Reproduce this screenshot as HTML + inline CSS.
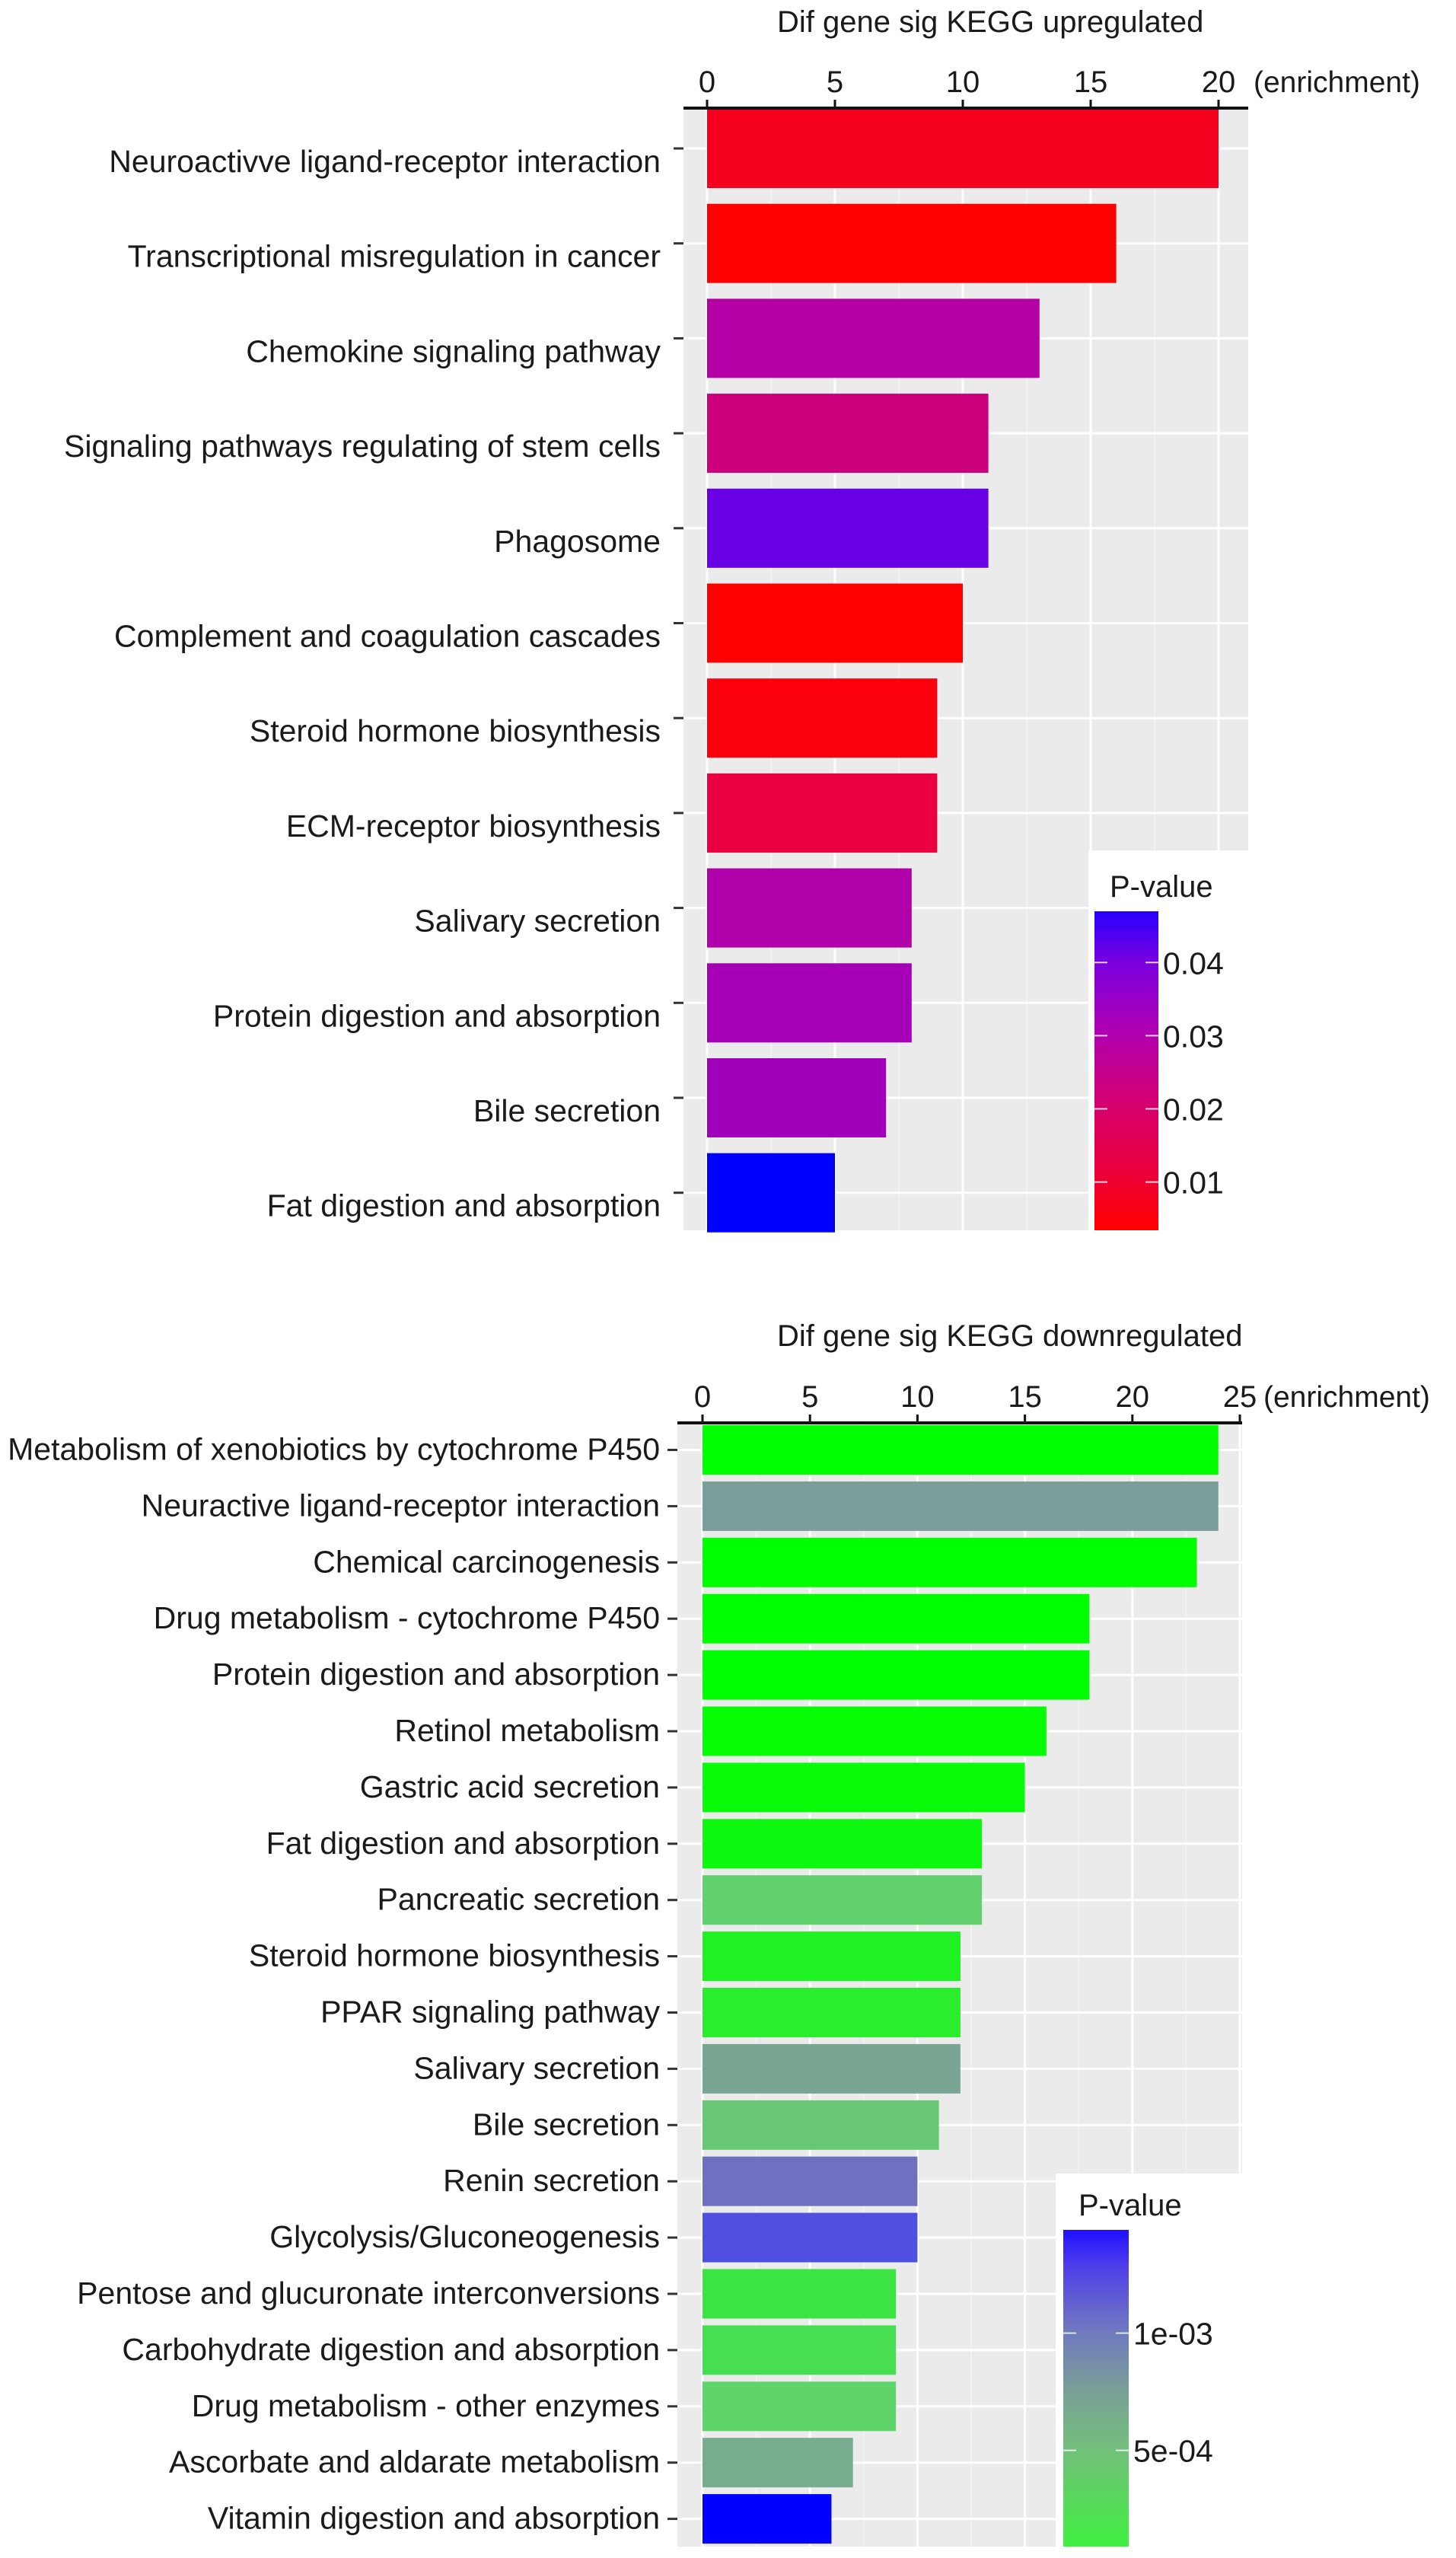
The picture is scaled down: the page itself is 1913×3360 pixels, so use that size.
<!DOCTYPE html>
<html><head><meta charset="utf-8"><style>
html,body{margin:0;padding:0;background:#fff}
svg text{font-family:"Liberation Sans",Arial,sans-serif;fill:#1a1a1a}
</style></head><body>
<svg id="root" xmlns="http://www.w3.org/2000/svg" width="1913" height="3355" viewBox="0 0 1913 3355">
<defs>
<linearGradient id="gUp" x1="0" y1="1" x2="0" y2="0">
<stop offset="0" stop-color="#ff0000"/><stop offset="0.2" stop-color="#ea0040"/><stop offset="0.4" stop-color="#d40070"/><stop offset="0.62" stop-color="#b000b0"/><stop offset="0.84" stop-color="#7a00e0"/><stop offset="1" stop-color="#2800ff"/>
</linearGradient>
<linearGradient id="gDown" x1="0" y1="1" x2="0" y2="0">
<stop offset="0" stop-color="#40f040"/><stop offset="0.3" stop-color="#72c07a"/><stop offset="0.5" stop-color="#7a9e98"/><stop offset="0.7" stop-color="#6e74c4"/><stop offset="0.88" stop-color="#5040e8"/><stop offset="1" stop-color="#2010ff"/>
</linearGradient>
</defs>
<g id="up"></g>
<g id="down"></g>
</svg>
<script>
const upCategories = ["Neuroactivve ligand-receptor interaction","Transcriptional misregulation in cancer","Chemokine signaling pathway","Signaling pathways regulating of stem cells","Phagosome","Complement and coagulation cascades","Steroid hormone biosynthesis","ECM-receptor biosynthesis","Salivary secretion","Protein digestion and absorption","Bile secretion","Fat digestion and absorption"];
const upValues = [20,16,13,11,11,10,9,9,8,8,7,5];
const upPvalues = [0.007,0.0034,0.029,0.022,0.041,0.0035,0.005,0.011,0.030,0.032,0.033,0.047];
const upTicks = [0,5,10,15,20];
const upLegendTicks = [0.01,0.02,0.03,0.04];
const upLegendLabels = ["0.01","0.02","0.03","0.04"];

const downCategories = ["Metabolism of xenobiotics by cytochrome P450","Neuractive ligand-receptor interaction","Chemical carcinogenesis","Drug metabolism - cytochrome P450","Protein digestion and absorption","Retinol metabolism","Gastric acid secretion","Fat digestion and absorption","Pancreatic secretion","Steroid hormone biosynthesis","PPAR signaling pathway","Salivary secretion","Bile secretion","Renin secretion","Glycolysis/Gluconeogenesis","Pentose and glucuronate interconversions","Carbohydrate digestion and absorption","Drug metabolism - other enzymes","Ascorbate and aldarate metabolism","Vitamin digestion and absorption"];
const downValues = [24,24,23,18,18,16,15,13,13,12,12,12,11,10,10,9,9,9,7,6];
const downPvalues = [0.00009,0.00074,0.00009,0.00009,0.00009,0.0001,0.00011,0.00012,0.00032,0.00016,0.00018,0.00065,0.00037,0.00107,0.00125,0.00022,0.00025,0.0003,0.00055,0.00144];
const downTicks = [0,5,10,15,20,25];
const downLegendTicks = [0.0005,0.001];
const downLegendLabels = ["5e-04","1e-03"];

const upStops = [[0.0034,[255,0,0]],[0.011,[234,0,64]],[0.02,[212,0,112]],[0.03,[176,0,170]],[0.04,[122,0,224]],[0.047,[0,0,255]]];
const downStops = [[0.00009,[0,255,0]],[0.0003,[95,212,106]],[0.0005,[118,176,136]],[0.00074,[122,158,154]],[0.00107,[112,112,192]],[0.00125,[80,80,224]],[0.00144,[0,0,255]]];

const NS="http://www.w3.org/2000/svg";
function mk(parent,tag,attrs,text){const e=document.createElementNS(NS,tag);for(const k in attrs)e.setAttribute(k,attrs[k]);if(text!==undefined)e.textContent=text;parent.appendChild(e);return e;}
function colorFor(p,stops){
  if(p<=stops[0][0])return "rgb("+stops[0][1].join(",")+")";
  for(let i=1;i<stops.length;i++){if(p<=stops[i][0]){const a=stops[i-1],b=stops[i];const t=(p-a[0])/(b[0]-a[0]);const c=a[1].map((v,j)=>Math.round(v+(b[1][j]-v)*t));return "rgb("+c.join(",")+")";}}
  return "rgb("+stops[stops.length-1][1].join(",")+")";
}

function drawChart(g,cfg){
  const xs=v=>cfg.x0+v*cfg.k;
  const ys=i=>cfg.row0+i*cfg.step;
  const bg=mk(g,"rect",{x:cfg.pl,y:cfg.axisY,width:cfg.pr-cfg.pl,height:cfg.pb-cfg.axisY,fill:"#ebebeb"});
  
  
  for(let v=cfg.ticks[0]+2.5; v<cfg.ticks[cfg.ticks.length-1]+2.5; v+=5){
    const x=xs(v); if(x>cfg.pr) continue;
    const l=mk(g,"line",{x1:x,x2:x,y1:cfg.axisY,y2:cfg.pb,stroke:"#f5f5f5","stroke-width":1.5});
    
    
  }
  cfg.ticks.forEach(v=>{
    const l=mk(g,"line",{x1:xs(v),x2:xs(v),y1:cfg.axisY,y2:cfg.pb,stroke:"#fff","stroke-width":3});
    
    
  });
  cfg.cats.forEach((c,i)=>{
    const l=mk(g,"line",{x1:cfg.pl,x2:cfg.pr,y1:ys(i),y2:ys(i),stroke:"#fff","stroke-width":3});
    
    
  });
  cfg.cats.forEach((c,i)=>{
    const r=mk(g,"rect",{x:xs(0),y:ys(i)-cfg.barH/2,width:xs(cfg.vals[i])-xs(0),height:cfg.barH,fill:colorFor(cfg.pv[i],cfg.stops)});
    
    
    const t=mk(g,"text",{x:cfg.labelX,y:ys(i)+cfg.labelDy,"font-size":cfg.labelFs,"text-anchor":"end"},c);
    
    
    const tk=mk(g,"line",{x1:cfg.pl-13,x2:cfg.pl,y1:ys(i),y2:ys(i),stroke:"#333","stroke-width":3});
    
    
  });
  const ax=mk(g,"line",{x1:cfg.pl,x2:cfg.pr,y1:cfg.axisY,y2:cfg.axisY,stroke:"#111","stroke-width":4});
  
  
  cfg.ticks.forEach(v=>{
    const l=mk(g,"line",{x1:xs(v),x2:xs(v),y1:cfg.axisY-11,y2:cfg.axisY,stroke:"#111","stroke-width":3});
    
    
    const t=mk(g,"text",{x:xs(v),y:cfg.axisY-21,"font-size":40,"text-anchor":"middle"},String(v));
    
    
  });
  const u=mk(g,"text",{x:cfg.unitX,y:cfg.axisY-21,"font-size":39},"(enrichment)");
  
  
  const ti=mk(g,"text",{x:1021,y:cfg.titleY,"font-size":40},cfg.title);
  
  
  const L=cfg.leg;
  const lb=mk(g,"rect",{x:L.boxX,y:L.boxY,width:cfg.pr-L.boxX+2,height:cfg.pb-L.boxY+4,fill:"#fff"});
  
  
  const lt=mk(g,"text",{x:L.x+20,y:L.titleY,"font-size":40},"P-value");
  
  
  const cb=mk(g,"rect",{x:L.x,y:L.top,width:L.w,height:L.bot-L.top,fill:"url(#"+L.grad+")"});
  
  
  const py=p=>L.bot-(p-L.pmin)/(L.pmax-L.pmin)*(L.bot-L.top);
  L.ticks.forEach((p,i)=>{
    const y=py(p);
    const a=mk(g,"line",{x1:L.x,x2:L.x+17,y1:y,y2:y,stroke:"#fff","stroke-width":2,"stroke-opacity":0.8});
    
    
    const b=mk(g,"line",{x1:L.x+L.w-17,x2:L.x+L.w,y1:y,y2:y,stroke:"#fff","stroke-width":2,"stroke-opacity":0.8});
    
    
    const t=mk(g,"text",{x:L.x+L.w+6,y:y+15,"font-size":41},L.labels[i]);
    
    
  });
}

drawChart(document.getElementById('up'),{
  cats:upCategories,vals:upValues,pv:upPvalues,stops:upStops,ticks:upTicks,
  x0:929,k:33.6,pl:898,pr:1640,axisY:142,pb:1616,row0:195,step:124.7,barH:104,
  labelX:868,labelDy:31,labelFs:41,unitX:1647,titleY:42,title:"Dif gene sig KEGG upregulated",
  leg:{boxX:1430,boxY:1117,x:1438,w:84,top:1197,bot:1616,pmin:0.0034,pmax:0.047,titleY:1178,grad:"gUp",ticks:upLegendTicks,labels:upLegendLabels}
});
drawChart(document.getElementById('down'),{
  cats:downCategories,vals:downValues,pv:downPvalues,stops:downStops,ticks:downTicks,
  x0:923,k:28.24,pl:890,pr:1632,axisY:1869,pb:3345,row0:1904.5,step:73.9,barH:65,
  labelX:867,labelDy:13,labelFs:41,unitX:1660,titleY:1768,title:"Dif gene sig KEGG downregulated",
  leg:{boxX:1387,boxY:2855,x:1397,w:86,top:2929,bot:3345,pmin:0.00009,pmax:0.00144,titleY:2910,grad:"gDown",ticks:downLegendTicks,labels:downLegendLabels}
});
</script>
</body></html>
